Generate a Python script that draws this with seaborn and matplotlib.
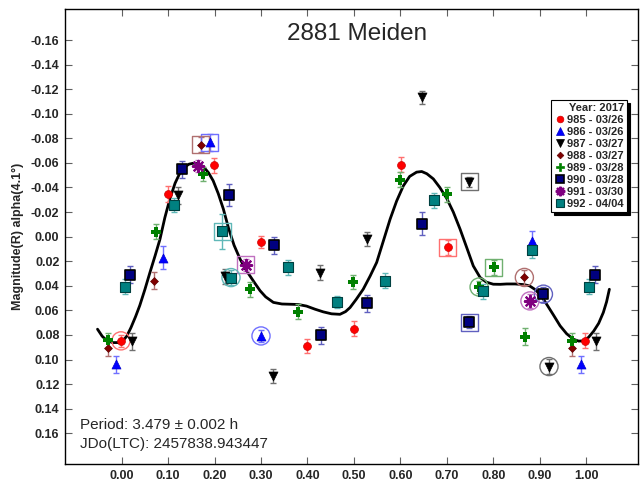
import matplotlib
matplotlib.use("Agg")
import matplotlib.pyplot as plt
import seaborn as sns
import pandas as pd
from matplotlib.lines import Line2D

# ---------------- data ----------------
series_names = ["985 - 03/26", "986 - 03/26", "987 - 03/27", "988 - 03/27",
                "989 - 03/28", "990 - 03/28", "991 - 03/30", "992 - 04/04"]

ph_985 = [-0.0015, 0.1004, 0.1995, 0.2994, 0.399, 0.501, 0.602, 0.702, 0.9985]
mg_985 = [0.0848, -0.0349, -0.0582, 0.0045, 0.0889, 0.0748, -0.0585, 0.0088, 0.0848]
er_985 = [0.005, 0.0065, 0.006, 0.005, 0.006, 0.006, 0.006, 0.006, 0.006]
fl_985 = ["o", "", "", "", "", "", "", "s", ""]

ph_986 = [-0.0116, 0.089, 0.1895, 0.300, 0.883, 0.988]
mg_986 = [0.1038, 0.017, -0.0767, 0.0808, 0.0034, 0.1038]
er_986 = [0.007, 0.009, 0.007, 0.005, 0.008, 0.007]
fl_986 = ["", "", "s", "o", "", ""]

ph_987 = [0.0222, 0.122, 0.2225, 0.3266, 0.427, 0.5277, 0.646, 0.7487, 0.920, 1.022]
mg_987 = [0.0853, -0.0338, 0.0324, 0.1133, 0.0292, 0.002, -0.1133, -0.0446, 0.1057, 0.0853]
er_987 = [0.007, 0.007, 0.006, 0.006, 0.006, 0.006, 0.005, 0.004, 0.006, 0.007]
fl_987 = ["", "", "", "", "", "", "", "s", "o", ""]

ph_988 = [-0.030, 0.0696, 0.170, 0.867, 0.969]
mg_988 = [0.0908, 0.0357, -0.0748, 0.0332, 0.0908]
er_988 = [0.006, 0.007, 0.006, 0.006, 0.006]
fl_988 = ["", "", "s", "o", ""]

ph_989 = [-0.030, 0.0732, 0.176, 0.277, 0.379, 0.4975, 0.600, 0.700, 0.7695, 0.801, 0.869, 0.969]
mg_989 = [0.0843, -0.0039, -0.051, 0.0428, 0.0612, 0.0368, -0.0463, -0.0346, 0.041, 0.0251, 0.0813, 0.0848]
er_989 = [0.006, 0.006, 0.006, 0.006, 0.006, 0.006, 0.006, 0.006, 0.005, 0.006, 0.007, 0.006]
fl_989 = ["", "", "", "", "", "", "", "", "o", "s", "", ""]

ph_990 = [0.0179, 0.130, 0.2304, 0.3287, 0.4292, 0.5277, 0.646, 0.748, 0.908, 1.019]
mg_990 = [0.0311, -0.0547, -0.0338, 0.0069, 0.0802, 0.0542, -0.0107, 0.0696, 0.0468, 0.031]
er_990 = [0.007, 0.007, 0.009, 0.007, 0.007, 0.007, 0.009, 0.005, 0.006, 0.007]
fl_990 = ["", "", "", "", "", "", "", "s", "o", ""]

ph_991 = [0.165, 0.267, 0.879]
mg_991 = [-0.0577, 0.023, 0.0523]
er_991 = [0.005, 0.005, 0.006]
fl_991 = ["", "s", "o"]

ph_992 = [0.0078, 0.112, 0.2167, 0.2354, 0.3575, 0.463, 0.5678, 0.6733, 0.779, 0.884, 1.007]
mg_992 = [0.0406, -0.0257, -0.0042, 0.0333, 0.0251, 0.0531, 0.0357, -0.0297, 0.0446, 0.011, 0.0408]
er_992 = [0.006, 0.006, 0.014, 0.006, 0.006, 0.005, 0.006, 0.006, 0.006, 0.006, 0.006]
fl_992 = ["", "", "s", "o", "", "", "", "", "", "", ""]

# fitted curve
fit_phase = [-0.052, -0.042, -0.032, -0.020, -0.008, 0.003, 0.011, 0.020, 0.030, 0.039,
             0.050, 0.061, 0.072, 0.0825, 0.093, 0.104, 0.115, 0.1256, 0.135, 0.145,
             0.155, 0.165, 0.176, 0.187, 0.197, 0.208, 0.219, 0.230, 0.242, 0.255,
             0.266, 0.2763, 0.287, 0.298, 0.310, 0.3266, 0.345, 0.3625, 0.380, 0.398,
             0.416, 0.434, 0.452, 0.470, 0.482, 0.4917, 0.505, 0.520, 0.535, 0.549,
             0.563, 0.578, 0.592, 0.6065, 0.620, 0.635, 0.646, 0.657, 0.671, 0.685,
             0.700, 0.714, 0.7286, 0.743, 0.757, 0.7717, 0.785, 0.800, 0.815, 0.829,
             0.847, 0.865, 0.878, 0.890, 0.903, 0.915, 0.930, 0.944, 0.958, 0.9727,
             0.984, 0.994, 1.005, 1.016, 1.027, 1.037, 1.044, 1.050]
fit_mag = [0.0753, 0.081, 0.0845, 0.0862, 0.0862, 0.0845, 0.081, 0.074, 0.065, 0.056,
           0.043, 0.029, 0.0155, 0.002, -0.0155, -0.031, -0.0435, -0.052, -0.0565, -0.059,
           -0.0598, -0.0593, -0.057, -0.052, -0.0455, -0.035, -0.0224, -0.007, 0.007, 0.0183,
           0.026, 0.032, 0.038, 0.044, 0.049, 0.0535, 0.0548, 0.055, 0.0552, 0.0565,
           0.059, 0.0612, 0.0628, 0.0632, 0.061, 0.0577, 0.051, 0.0428, 0.032, 0.021,
           0.004, -0.0143, -0.029, -0.0414, -0.049, -0.0525, -0.053, -0.0512, -0.047, -0.040,
           -0.031, -0.020, -0.0061, 0.009, 0.0238, 0.0332, 0.037, 0.0387, 0.0388, 0.0385,
           0.0385, 0.039, 0.040, 0.043, 0.048, 0.055, 0.064, 0.0726, 0.079, 0.0835,
           0.085, 0.0848, 0.082, 0.077, 0.0705, 0.0617, 0.053, 0.0428]

x_ticks = [0.0, 0.1, 0.2, 0.3, 0.4, 0.5, 0.6, 0.7, 0.8, 0.9, 1.0]
y_ticks = [-0.16, -0.14, -0.12, -0.10, -0.08, -0.06, -0.04, -0.02, 0.0,
           0.02, 0.04, 0.06, 0.08, 0.10, 0.12, 0.14, 0.16]

# ---------------- styles ----------------
styles = {
    "985 - 03/26": dict(marker="o", color="#FF0000", edge="#CC0000", ecol="#FF7070", s=32, lw=0.5),
    "986 - 03/26": dict(marker="^", color="#0000FF", edge="#0000CC", ecol="#7070FF", s=42, lw=0.5),
    "987 - 03/27": dict(marker="v", color="#000000", edge="#000000", ecol="#707070", s=42, lw=0.5),
    "988 - 03/27": dict(marker="D", color="#800000", edge="#600000", ecol="#B07070", s=16, lw=0.5),
    "989 - 03/28": dict(marker="P", color="#008000", edge="#008000", ecol="#70B070", s=55, lw=0.0),
    "990 - 03/28": dict(marker="s", color="#000080", edge="#000000", ecol="#6060C0", s=55, lw=1.2),
    "991 - 03/30": dict(marker=(8, 2, 0), color="#800080", edge="#800080", ecol="#C070C0", s=65, lw=1.6),
    "992 - 04/04": dict(marker="s", color="#008080", edge="#004040", ecol="#60B8B8", s=45, lw=0.8),
}

data = {
    "985 - 03/26": (ph_985, mg_985, er_985, fl_985),
    "986 - 03/26": (ph_986, mg_986, er_986, fl_986),
    "987 - 03/27": (ph_987, mg_987, er_987, fl_987),
    "988 - 03/27": (ph_988, mg_988, er_988, fl_988),
    "989 - 03/28": (ph_989, mg_989, er_989, fl_989),
    "990 - 03/28": (ph_990, mg_990, er_990, fl_990),
    "991 - 03/30": (ph_991, mg_991, er_991, fl_991),
    "992 - 04/04": (ph_992, mg_992, er_992, fl_992),
}

sns.set_theme(style="white")
plt.rcParams["font.family"] = ["Liberation Sans", "DejaVu Sans"]
plt.rcParams["axes.unicode_minus"] = False

fig = plt.figure(figsize=(6.42, 4.83), dpi=100)
ax = fig.add_axes([65 / 642, 19 / 483, 572.7 / 642, 454.7 / 483])

# fit curve
fit_df = pd.DataFrame({"phase": fit_phase, "mag": fit_mag})
sns.lineplot(data=fit_df, x="phase", y="mag", sort=False, color="black", lw=2.0, ax=ax, zorder=2)

for name in series_names:
    ph, mg, er, fl = data[name]
    st = styles[name]
    df = pd.DataFrame({"phase": ph, "mag": mg, "err": er, "flag": fl})
    ax.errorbar(df["phase"], df["mag"], yerr=df["err"], fmt="none", ecolor=st["ecol"],
                elinewidth=1.0, capsize=2.5, capthick=1.0, zorder=3)
    for fm in ["s", "o"]:
        sub = df[df["flag"] == fm]
        if len(sub):
            sns.scatterplot(data=sub, x="phase", y="mag", marker=fm, s=150 if fm == "s" else 170,
                            facecolor="none", edgecolor=st["ecol"], linewidth=1.0, ax=ax,
                            legend=False, zorder=4)
    sns.scatterplot(data=df, x="phase", y="mag", marker=st["marker"], s=st["s"], color=st["color"],
                    edgecolor=st["edge"], linewidth=st["lw"], ax=ax, legend=False, zorder=5)

ax.set_xlim(-0.122, 1.111)
ax.set_ylim(0.185, -0.185)
ax.set_xticks(x_ticks)
ax.set_xticklabels([f"{v:.2f}" for v in x_ticks], fontweight="bold", fontsize=9)
ax.set_yticks(y_ticks)
ax.set_yticklabels([f"{v:.2f}" for v in y_ticks], fontweight="bold", fontsize=9)
ax.tick_params(direction="in", length=5, width=0.8, top=True, right=True,
               bottom=True, left=True, color="#606060", pad=4)
ax.set_xlabel("")
ax.set_ylabel("Magnitude(R) alpha(4.1°)", fontweight="bold", fontsize=9, labelpad=5)
for sp in ax.spines.values():
    sp.set_color("black")
    sp.set_linewidth(1.0)
ax.grid(False)

ax.text(0.51, 0.945, "2881 Meiden", transform=ax.transAxes, ha="center", va="center",
        fontsize=17.5)
ax.text(0.026, 0.086, "Period: 3.479 ± 0.002 h", transform=ax.transAxes, ha="left",
        va="center", fontsize=11)
ax.text(0.026, 0.044, "JDo(LTC): 2457838.943447", transform=ax.transAxes, ha="left",
        va="center", fontsize=11)

handles = []
for name in series_names:
    st = styles[name]
    handles.append(Line2D([], [], linestyle="none", marker=st["marker"], color=st["color"],
                          markeredgecolor=st["edge"], markeredgewidth=st["lw"] if st["lw"] > 0 else 0.5,
                          markersize=st["s"] ** 0.5 * 0.85))
leg = ax.legend(handles, series_names, title="Year: 2017", loc="upper right",
                bbox_to_anchor=(0.981, 0.800), borderaxespad=0, frameon=True, fancybox=False,
                shadow={"color": "black", "alpha": 1.0}, prop={"weight": "bold", "size": 8},
                title_fontproperties={"weight": "bold", "size": 8}, handletextpad=0.2,
                handlelength=1.0, labelspacing=0.18, borderpad=0.25)
leg.get_frame().set_edgecolor("black")
leg.get_frame().set_linewidth(0.8)
leg._legend_box.align = "right"

fig.savefig("out.png", dpi=100)
